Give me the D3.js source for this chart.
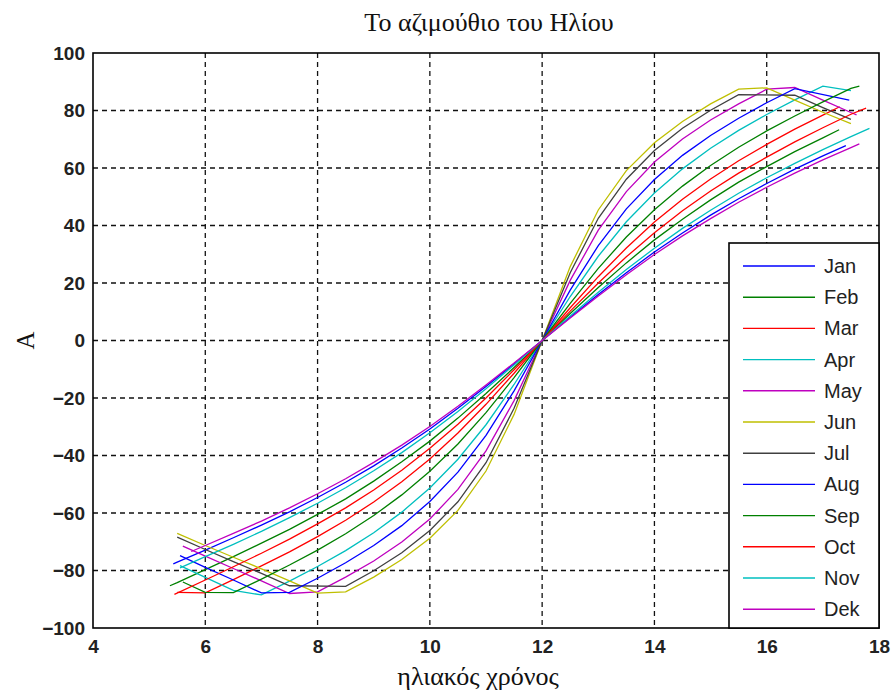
<!DOCTYPE html>
<html>
<head>
<meta charset="utf-8">
<script src="https://cdn.jsdelivr.net/npm/d3@7"></script>
<style>
  body { margin: 0; background: #fff; }
  #container { width: 894px; height: 697px; }
</style>
</head>
<body>
<div id="container"></div>
<script>
// month names as in the legend, MATLAB colour cycle
const months = ['Jan', 'Feb', 'Mar', 'Apr', 'May', 'Jun', 'Jul', 'Aug', 'Sep', 'Oct', 'Nov', 'Dek'];
const colors = ['#0000ff', '#008000', '#ff0000', '#00bfbf', '#bf00bf', '#bfbf00', '#404040',
  '#0000ff', '#008000', '#ff0000', '#00bfbf', '#bf00bf'];

const xTicks = [4, 6, 8, 10, 12, 14, 16, 18];
const yTicks = [-100, -80, -60, -40, -20, 0, 20, 40, 60, 80, 100];

// [solar time, azimuth]
const jan = [[5.43, -77.7], [5.5, -77.1], [6, -72.9], [6.5, -68.6], [7, -64.2], [7.5, -59.6], [8, -54.6], [8.5, -49.3],
  [9, -43.6], [9.5, -37.4], [10, -30.8], [10.5, -23.6], [11, -16.0], [11.5, -8.1], [12, 0], [12.5, 8.1], [13, 16.0],
  [13.5, 23.6], [14, 30.8], [14.5, 37.4], [15, 43.6], [15.5, 49.3], [16, 54.6], [16.5, 59.6], [17, 64.2], [17.41, 67.8]];
const feb = [[5.37, -85.3], [5.5, -84.2], [6, -79.7], [6.5, -75.2], [7, -70.5], [7.5, -65.7], [8, -60.5], [8.5, -55.1],
  [9, -48.9], [9.5, -42.2], [10, -35.0], [10.5, -27.0], [11, -18.4], [11.5, -9.4], [12, 0], [12.5, 9.4], [13, 18.4],
  [13.5, 27.0], [14, 35.0], [14.5, 42.2], [15, 48.9], [15.5, 55.1], [16, 60.5], [16.5, 65.7], [17, 70.5], [17.29, 73.3]];
const mar = [[5.5, -87.6], [6, -87.8], [6.5, -83.2], [7, -78.4], [7.5, -73.5], [8, -68.2], [8.5, -62.5], [9, -56.2],
  [9.5, -49.1], [10, -41.2], [10.5, -32.2], [11, -22.2], [11.5, -11.4], [12, 0], [12.5, 11.4], [13, 22.2], [13.5, 32.2],
  [14, 41.2], [14.5, 49.1], [15, 56.2], [15.5, 62.5], [16, 68.2], [16.5, 73.5], [17, 78.4], [17.3, 81.3]];
const apr = [[5.55, -78.3], [6, -82.4], [6.5, -86.9], [7, -88.5], [7.5, -83.7], [8, -78.6], [8.5, -73.1], [9, -66.9],
  [9.5, -59.7], [10, -51.3], [10.5, -41.3], [11, -29.3], [11.5, -15.3], [12, 0], [12.5, 15.3], [13, 29.3], [13.5, 41.3],
  [14, 51.3], [14.5, 59.7], [15, 66.9], [15.5, 73.1], [16, 78.6], [16.5, 83.7], [17, 88.5], [17.5, 86.9]];
const may = [[5.6, -71.5], [6, -75.0], [6.5, -79.3], [7, -83.6], [7.5, -88.0], [8, -87.4], [8.5, -82.3], [9, -76.7],
  [9.5, -70.1], [10, -62.1], [10.5, -51.8], [11, -38.4], [11.5, -20.9], [12, 0], [12.5, 20.9], [13, 38.4], [13.5, 51.8],
  [14, 62.1], [14.5, 70.1], [15, 76.7], [15.5, 82.3], [16, 87.4], [16.5, 88.0], [17, 83.6], [17.5, 79.3], [17.6, 78.5]];
const jun = [[5.5, -67.1], [6, -71.3], [6.5, -75.4], [7, -79.4], [7.5, -83.6], [8, -87.9], [8.5, -87.4], [9, -82.3],
  [9.5, -76.2], [10, -68.8], [10.5, -59.1], [11, -45.4], [11.5, -25.7], [12, 0], [12.5, 25.7], [13, 45.4], [13.5, 59.1],
  [14, 68.8], [14.5, 76.2], [15, 82.3], [15.5, 87.4], [16, 87.9], [16.5, 83.6], [17, 79.4], [17.5, 75.4]];
const jul = [[5.5, -68.4], [6, -72.7], [6.5, -76.9], [7, -81.0], [7.5, -85.3], [8.5, -85.5], [9, -80.1], [9.5, -73.8],
  [10, -66.1], [10.5, -56.1], [11, -42.5], [11.5, -23.6], [12, 0], [12.5, 23.6], [13, 42.5], [13.5, 56.1], [14, 66.1],
  [14.5, 73.8], [15, 80.1], [15.5, 85.5], [16.5, 85.3], [17, 81.0], [17.5, 76.9]];
const aug = [[5.55, -74.8], [6, -78.9], [6.5, -83.3], [7, -87.8], [7.5, -87.6], [8, -82.7], [8.5, -77.3], [9, -71.3],
  [9.5, -64.4], [10, -56.0], [10.5, -45.8], [11, -33.0], [11.5, -17.5], [12, 0], [12.5, 17.5], [13, 33.0], [13.5, 45.8],
  [14, 56.0], [14.5, 64.4], [15, 71.3], [15.5, 77.3], [16, 82.7], [16.5, 87.6], [17.47, 83.6]];
const sep = [[5.6, -84.0], [6, -87.6], [6.5, -87.7], [7, -83.0], [7.5, -78.1], [8, -72.9], [8.5, -67.2], [9, -60.9],
  [9.5, -53.7], [10, -45.5], [10.5, -36.0], [11, -25.1], [11.5, -12.9], [12, 0], [12.5, 12.9], [13, 25.1], [13.5, 36.0],
  [14, 45.5], [14.5, 53.7], [15, 60.9], [15.5, 67.2], [16, 72.9], [16.5, 78.1], [17, 83.0], [17.5, 87.7], [17.65, 88.5]];
const oct = [[5.45, -88.3], [6, -83.3], [6.5, -78.7], [7, -74.0], [7.5, -69.1], [8, -63.8], [8.5, -58.2], [9, -52.0],
  [9.5, -45.1], [10, -37.5], [10.5, -29.1], [11, -20.0], [11.5, -10.2], [12, 0], [12.5, 10.2], [13, 20.0], [13.5, 29.1],
  [14, 37.5], [14.5, 45.1], [15, 52.0], [15.5, 58.2], [16, 63.8], [16.5, 69.1], [17, 74.0], [17.5, 78.7], [17.77, 80.8]];
const nov = [[5.55, -79.1], [6, -75.2], [6.5, -70.9], [7, -66.4], [7.5, -61.6], [8, -56.6], [8.5, -51.2], [9, -45.3],
  [9.5, -39.0], [10, -32.1], [10.5, -24.7], [11, -16.8], [11.5, -8.5], [12, 0], [12.5, 8.5], [13, 16.8], [13.5, 24.7],
  [14, 32.1], [14.5, 39.0], [15, 45.3], [15.5, 51.2], [16, 56.6], [16.5, 61.6], [17, 66.4], [17.5, 70.9], [17.83, 73.8]];
const dek = [[5.75, -73.4], [6, -71.3], [6.5, -67.1], [7, -62.8], [7.5, -58.2], [8, -53.3], [8.5, -48.1], [9, -42.4],
  [9.5, -36.4], [10, -29.9], [10.5, -22.9], [11, -15.5], [11.5, -7.8], [12, 0], [12.5, 7.8], [13, 15.5], [13.5, 22.9],
  [14, 29.9], [14.5, 36.4], [15, 42.4], [15.5, 48.1], [16, 53.3], [16.5, 58.2], [17, 62.8], [17.5, 67.1], [17.65, 68.4]];

const values = [jan, feb, mar, apr, may, jun, jul, aug, sep, oct, nov, dek];
const series = months.map((m, i) => ({name: m, color: colors[i], data: values[i]}));

const width = 894; const height = 697;
const margin = {left: 93, right: 15, top: 53, bottom: 69};

const svg = d3.select('#container').append('svg')
    .attr('width', width)
    .attr('height', height)
    .style('background', '#fff');

const x = d3.scaleLinear().domain([4, 18]).range([margin.left, width - margin.right]);
const y = d3.scaleLinear().domain([-100, 100]).range([height - margin.bottom, margin.top]);

const plotW = x.range()[1] - x.range()[0];
const plotH = y.range()[0] - y.range()[1];
const tickFont = '"Liberation Sans", Arial, sans-serif';
const serif = '"Liberation Serif", "Times New Roman", serif';

// dashed grid
const grid = svg.append('g').attr('stroke', '#111').attr('stroke-width', 1.3).attr('stroke-dasharray', '5,4');
grid.selectAll('.vg').data(xTicks.slice(1, -1)).enter().append('line')
    .attr('x1', (d) => x(d)).attr('x2', (d) => x(d))
    .attr('y1', y(100)).attr('y2', y(-100));
grid.selectAll('.hg').data(yTicks.slice(1, -1)).enter().append('line')
    .attr('y1', (d) => y(d)).attr('y2', (d) => y(d))
    .attr('x1', x(4)).attr('x2', x(18));

// curves
const line = d3.line().x((d) => x(d[0])).y((d) => y(d[1]));
svg.append('g').attr('fill', 'none').attr('stroke-width', 1.3)
    .selectAll('path').data(series).enter().append('path')
    .attr('stroke', (d) => d.color)
    .attr('d', (d) => line(d.data));

// axes
const xAxis = svg.append('g').attr('transform', 'translate(0,' + y(-100) + ')')
    .call(d3.axisBottom(x).tickValues(xTicks).tickSize(0).tickPadding(12).tickFormat(d3.format('d')));
const yAxis = svg.append('g').attr('transform', 'translate(' + x(4) + ',0)')
    .call(d3.axisLeft(y).tickValues(yTicks).tickSize(0).tickPadding(8).tickFormat(d3.format('d')));
[xAxis, yAxis].forEach((a) => {
  a.select('.domain').remove();
  a.selectAll('text').attr('fill', '#222').style('font-family', tickFont)
      .style('font-size', '19px').style('font-weight', 'bold');
});

// frame
svg.append('rect')
    .attr('x', x(4)).attr('y', y(100)).attr('width', plotW).attr('height', plotH)
    .attr('fill', 'none').attr('stroke', '#000').attr('stroke-width', 1.6);

// titles
svg.append('text').attr('x', 489).attr('y', 31).attr('text-anchor', 'middle')
    .style('font-family', serif).style('font-size', '26px').attr('fill', '#111')
    .text('Το αζιμούθιο του Ηλίου');
svg.append('text').attr('x', 478).attr('y', 685).attr('text-anchor', 'middle')
    .style('font-family', serif).style('font-size', '26px').attr('fill', '#111')
    .text('ηλιακός χρόνος');
svg.append('text').attr('transform', 'translate(34,' + y(0) + ') rotate(-90)').attr('text-anchor', 'middle')
    .style('font-family', serif).style('font-size', '25px').attr('fill', '#111')
    .text('A');

// legend
const lg = svg.append('g').attr('transform', 'translate(729,243)');
lg.append('rect').attr('width', x(18) - 729).attr('height', y(-100) - 243)
    .attr('fill', '#fff').attr('stroke', '#000').attr('stroke-width', 1.6);
const item = lg.selectAll('.item').data(series).enter().append('g')
    .attr('transform', (d, i) => 'translate(0,' + (23 + i * 31.2) + ')');
item.append('line').attr('x1', 14).attr('x2', 86).attr('stroke', (d) => d.color).attr('stroke-width', 1.4);
item.append('text').attr('x', 95).attr('dy', '0.35em').attr('fill', '#222')
    .style('font-family', tickFont).style('font-size', '20px')
    .text((d) => d.name);
</script>
</body>
</html>
